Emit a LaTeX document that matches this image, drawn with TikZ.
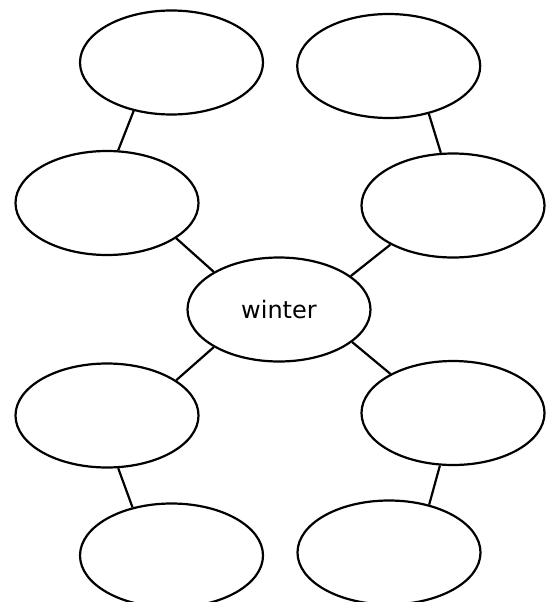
\documentclass[tikz,border=0pt]{standalone}
\usepackage{fontspec}
\setmainfont{DejaVu Sans}
\usepackage{tikz}
\usetikzlibrary{shapes.geometric}

\begin{document}
\begin{tikzpicture}[x=1pt,y=-1pt,
  bubble/.style={draw, ellipse, line width=2.2pt, minimum width=183pt, minimum height=104pt, inner sep=0pt},
  link/.style={line width=2.2pt}]
\useasboundingbox (0,0) rectangle (547,602);

% Ellipses
\node[bubble] (ctr) at (279,309.5) {\fontsize{24}{28}\selectfont winter};
\node[bubble] (tl) at (171.5,62.5) {};
\node[bubble] (tr) at (388.7,66) {};
\node[bubble] (ml) at (107,203) {};
\node[bubble] (mr) at (453,205.5) {};
\node[bubble] (ll) at (107,415.5) {};
\node[bubble] (lr) at (453,413) {};
\node[bubble] (bl) at (171.5,555.5) {};
\node[bubble] (br) at (389,552.5) {};

% Connectors
\draw[link] (tl.232) -- (ml.78);
\draw[link] (ml.333) -- (ctr.150);
\draw[link] (tr.310) -- (mr.103);
\draw[link] (mr.212) -- (ctr.25);
\draw[link] (ctr.210) -- (ll.27);
\draw[link] (ctr.336) -- (lr.148);
\draw[link] (ll.282) -- (bl.129);
\draw[link] (lr.256) -- (br.50);
\end{tikzpicture}
\end{document}
